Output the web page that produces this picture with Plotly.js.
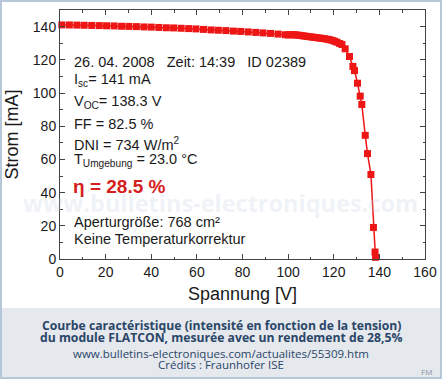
<!DOCTYPE html>
<html>
<head>
<meta charset="utf-8">
<script src="https://cdn.plot.ly/plotly-3.0.1.min.js"></script>
<style>html,body{margin:0;padding:0;background:#fff;}#chart{width:442px;height:379px;}</style>
</head>
<body>
<div id="chart"></div>
<script>
// Data: voltage [V] and current [mA]
const voltage = [0.8, 4.1, 7.4, 10.6, 13.9, 17.2, 20.4, 23.7, 27.0, 30.2, 33.5, 36.8, 40.0, 43.3, 46.6, 49.8, 53.1, 56.4, 59.6, 62.9,
  66.2, 69.4, 72.7, 76.0, 79.2, 82.5, 85.8, 89.0, 92.3, 95.6, 98.8,
  100.2, 101.2, 102.2, 103.2, 104.2, 105.2, 106.2, 107.2, 108.3, 109.4, 110.5, 111.6, 112.7, 113.8, 114.9, 116.0, 117.1, 118.2, 119.3,
  120.4, 121.4, 122.6, 123.6, 125.0, 126.9, 128.4, 129.1, 130.4, 131.6, 132.3, 133.8, 134.8, 136.3, 137.4, 138.1, 138.3];
const current = [141.0, 141.0, 140.9, 140.8, 140.7, 140.6, 140.5, 140.4, 140.2, 140.1, 140.0, 139.8, 139.7, 139.5, 139.3, 139.2, 139.0, 138.8, 138.6, 138.3,
  138.0, 137.8, 137.6, 137.3, 137.1, 136.8, 136.5, 136.2, 135.9, 135.5, 135.1,
  135.0, 135.1, 135.1, 135.0, 134.9, 134.7, 134.5, 134.3, 134.1, 133.9, 133.7, 133.5, 133.3, 133.1, 132.9, 132.7, 132.4, 132.1, 131.7,
  131.2, 130.6, 129.8, 129.2, 126.6, 122.0, 116.0, 113.5, 105.9, 98.1, 93.1, 74.5, 63.5, 50.9, 19.0, 4.2, 1.0];

const xTickVals = [0, 20, 40, 60, 80, 100, 120, 140, 160];
const yTickVals = [0, 20, 40, 60, 80, 100, 120, 140];

const infoLines = [
  "26. 04. 2008   Zeit: 14:39   ID 02389",
  "I<sub>sc</sub>= 141 mA",
  "V<sub>OC</sub>= 138.3 V",
  "FF = 82.5 %",
  "DNI = 734 W/m<sup>2</sup>",
  "T<sub>Umgebung</sub> = 23.0 °C"
];
const etaText = "η = 28.5 %";
const noteLines = ["Aperturgröße: 768 cm²", "Keine Temperaturkorrektur"];
const captionBold = ["Courbe caractéristique (intensité en fonction de la tension)",
                     "du module FLATCON, mesurée avec un rendement de 28,5%"];
const captionPlain = ["www.bulletins-electroniques.com/actualites/55309.htm", "Crédits : Fraunhofer ISE"];

// layout geometry (pixels)
const W = 442, H = 379, L = 60, R = 17, T = 10, B = 120;
const pw = W - L - R, ph = H - T - B;
const xp = px => (px - L) / pw;
const yp = py => (H - B - py) / ph;

const plotFont = "Liberation Sans, Arial, sans-serif";
const capFont = "Open Sans, DejaVu Sans, sans-serif";
const capColor = "#2a4668";

const annotations = [];
const infoY = [62, 80.5, 101.5, 124, 144, 160];
infoLines.forEach((t, i) => annotations.push({
  text: t, xref: "paper", yref: "paper", x: xp(72), y: yp(infoY[i]),
  xanchor: "left", yanchor: "middle", showarrow: false,
  font: {family: plotFont, size: 14.5, color: "#1a1a1a"}
}));
annotations.push({
  text: "<b>" + etaText + "</b>", xref: "paper", yref: "paper", x: xp(71), y: yp(186),
  xanchor: "left", yanchor: "middle", showarrow: false,
  font: {family: plotFont, size: 19, color: "#d42020"}
});
[222, 239].forEach((py, i) => annotations.push({
  text: noteLines[i], xref: "paper", yref: "paper", x: xp(72), y: yp(py),
  xanchor: "left", yanchor: "middle", showarrow: false,
  font: {family: plotFont, size: 14.5, color: "#1a1a1a"}
}));
// watermark
annotations.push({
  text: "<b>www.bulletins-electroniques.com</b>", xref: "paper", yref: "paper", x: xp(220), y: yp(203),
  xanchor: "center", yanchor: "middle", showarrow: false,
  font: {family: "Open Sans, DejaVu Sans, sans-serif", size: 23.5, color: "rgba(200,212,228,0.3)"}
});
// caption
[325, 337.5].forEach((py, i) => annotations.push({
  text: "<b>" + captionBold[i] + "</b>", xref: "paper", yref: "paper", x: xp(221), y: yp(py),
  xanchor: "center", yanchor: "middle", showarrow: false,
  font: {family: capFont, size: 12.2, color: capColor}
}));
[353, 364].forEach((py, i) => annotations.push({
  text: captionPlain[i], xref: "paper", yref: "paper", x: xp(221), y: yp(py),
  xanchor: "center", yanchor: "middle", showarrow: false,
  font: {family: capFont, size: 11.5, color: capColor}
}));
annotations.push({
  text: "FM", xref: "paper", yref: "paper", x: xp(426), y: yp(372),
  xanchor: "center", yanchor: "middle", showarrow: false,
  font: {family: capFont, size: 8, color: "#8a96a6"}
});

const shapes = [
  {type: "rect", xref: "paper", yref: "paper", x0: xp(2), x1: xp(440), y0: yp(308), y1: yp(377),
   fillcolor: "#e5e8ed", line: {width: 0}, layer: "below"},
  {type: "rect", xref: "paper", yref: "paper", x0: xp(1), x1: xp(441), y0: yp(1), y1: yp(378),
   fillcolor: "rgba(0,0,0,0)", line: {color: "#b6c7d9", width: 2}, layer: "above"}
];

const axisCommon = {
  showgrid: false, zeroline: false, showline: true, linecolor: "#444", linewidth: 1,
  mirror: "allticks", ticks: "inside", ticklen: 5, tickwidth: 1, tickcolor: "#444",
  tickfont: {family: plotFont, size: 14, color: "#1a1a1a"}
};

const trace = {
  x: voltage, y: current, type: "scatter", mode: "lines+markers",
  line: {color: "#ee1515", width: 1.5},
  marker: {symbol: "square", size: 7, color: "#ee1515"},
  cliponaxis: false
};

const layout = {
  width: W, height: H, margin: {l: L, r: R, t: T, b: B, pad: 0},
  paper_bgcolor: "#ffffff", plot_bgcolor: "#ffffff", showlegend: false,
  xaxis: Object.assign({}, axisCommon, {
    range: [0, 160], tickvals: xTickVals, ticktext: xTickVals.map(String),
    minor: {dtick: 10, tick0: 0, ticks: "inside", ticklen: 2.5, tickcolor: "#444"},
    title: {text: "Spannung [V]", font: {family: plotFont, size: 18, color: "#1a1a1a"}, standoff: 8}
  }),
  yaxis: Object.assign({}, axisCommon, {
    range: [0, 150], tickvals: yTickVals, ticktext: yTickVals.map(String),
    minor: {dtick: 10, tick0: 0, ticks: "inside", ticklen: 2.5, tickcolor: "#444"},
    title: {text: "Strom [mA]", font: {family: plotFont, size: 18, color: "#1a1a1a"}, standoff: 9}
  }),
  annotations: annotations, shapes: shapes
};

Plotly.newPlot("chart", [trace], layout, {displayModeBar: false, staticPlot: true});
</script>
</body>
</html>
